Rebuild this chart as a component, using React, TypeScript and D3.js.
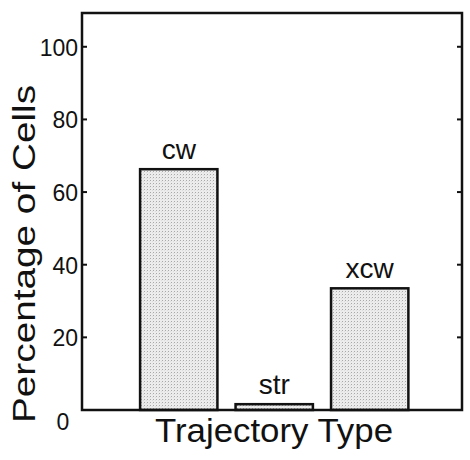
import { useMemo } from "react";
import * as d3 from "d3";

const categories = ["cw", "str", "xcw"];
const percentages = [66.3, 1.6, 33.5];
const yTicks = [0, 20, 40, 60, 80, 100];
const yTickLabels = ["0", "20", "40", "60", "80", "100"];
const yLabel = "Percentage of Cells";
const xLabel = "Trajectory Type";

const W = 470;
const H = 460;
const frame = { left: 82, right: 462, top: 13, bottom: 410 };
const font = "'Liberation Sans', Arial, Helvetica, sans-serif";

export default function App() {
  const { x, y } = useMemo(() => {
    const x = d3
      .scaleBand<string>()
      .domain(categories)
      .range([frame.left, frame.right])
      .paddingInner(0.19)
      .paddingOuter(0.585)
      .align(0.52);
    const y = d3.scaleLinear().domain([0, 109.3]).range([frame.bottom, frame.top]);
    return { x, y };
  }, []);

  const tickLen = 5;

  return (
    <svg
      width={W}
      height={H}
      style={{ position: "absolute", left: 0, top: 0, background: "#fff" }}
      fontFamily={font}
    >
      <defs>
        <pattern id="stipple" width={3} height={3} patternUnits="userSpaceOnUse">
          <rect width={3} height={3} fill="#ececec" />
          <rect x={0} y={0} width={1} height={1} fill="#a8a8a8" />
          <rect x={2} y={1} width={0.6} height={0.6} fill="#c4c4c4" />
        </pattern>
      </defs>

      {/* bars */}
      {categories.map((c, i) => (
        <g key={c}>
          <rect
            x={x(c)}
            y={y(percentages[i])}
            width={x.bandwidth()}
            height={y(0) - y(percentages[i])}
            fill="url(#stipple)"
            stroke="#111"
            strokeWidth={2.5}
          />
          <text
            x={(x(c) ?? 0) + x.bandwidth() / 2}
            y={y(percentages[i]) - 10}
            textAnchor="middle"
            fontSize={28}
            fill="#111"
          >
            {c}
          </text>
        </g>
      ))}

      {/* frame */}
      <rect
        x={frame.left}
        y={frame.top}
        width={frame.right - frame.left}
        height={frame.bottom - frame.top}
        fill="none"
        stroke="#111"
        strokeWidth={2.5}
      />

      {/* y ticks, both sides, inward */}
      {yTicks.map((t, i) => (
        <g key={t}>
          {t > 0 && (
            <>
              <line
                x1={frame.left}
                x2={frame.left + tickLen}
                y1={y(t)}
                y2={y(t)}
                stroke="#111"
                strokeWidth={2}
              />
              <line
                x1={frame.right}
                x2={frame.right - tickLen}
                y1={y(t)}
                y2={y(t)}
                stroke="#111"
                strokeWidth={2}
              />
            </>
          )}
          <text
            x={t === 0 ? 63 : frame.left - 4}
            y={y(t) + (t === 0 ? 12 : 1)}
            textAnchor={t === 0 ? "middle" : "end"}
            dominantBaseline="central"
            fontSize={23}
            fill="#111"
          >
            {yTickLabels[i]}
          </text>
        </g>
      ))}

      {/* axis titles */}
      <text
        transform={`translate(35, ${254}) rotate(-90)`}
        textAnchor="middle"
        fontSize={31}
        textLength={338}
        lengthAdjust="spacingAndGlyphs"
        fill="#111"
      >
        {yLabel}
      </text>
      <text
        x={274}
        y={442}
        textAnchor="middle"
        fontSize={33}
        textLength={238}
        lengthAdjust="spacingAndGlyphs"
        fill="#111"
      >
        {xLabel}
      </text>
    </svg>
  );
}
